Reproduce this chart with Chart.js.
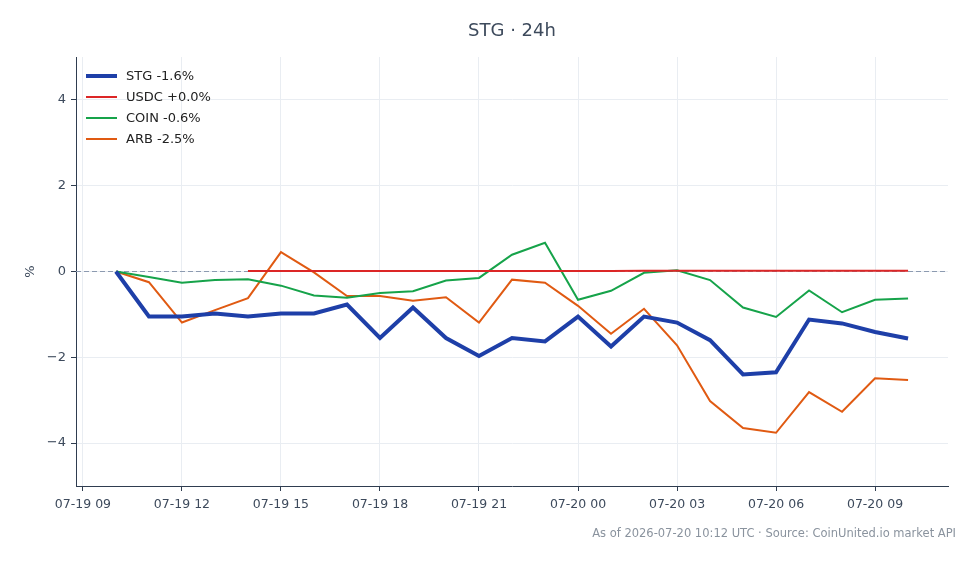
<!DOCTYPE html>
<html>
<head>
<meta charset="utf-8">
<script src="https://cdn.jsdelivr.net/npm/chart.js@4.4.1/dist/chart.umd.min.js"></script>
<style>
  html, body { margin: 0; padding: 0; background: #fff; }
  #wrap { width: 980px; height: 564px; position: relative; }
</style>
</head>
<body>
<div id="wrap"><canvas id="chart"></canvas></div>
<script>
const times = [
    "07-19 10", "07-19 11", "07-19 12", "07-19 13", "07-19 14", "07-19 15", "07-19 16",
    "07-19 17", "07-19 18", "07-19 19", "07-19 20", "07-19 21", "07-19 22", "07-19 23",
    "07-20 00", "07-20 01", "07-20 02", "07-20 03", "07-20 04", "07-20 05", "07-20 06",
    "07-20 07", "07-20 08", "07-20 09", "07-20 10",
];
const stg = [0, -1.05, -1.05, -0.98, -1.05, -0.98, -0.98, -0.77, -1.55, -0.84, -1.55, -1.97, -1.55,
    -1.63, -1.05, -1.75, -1.05, -1.19, -1.6, -2.4, -2.35, -1.12, -1.21, -1.41, -1.56];
const usdc = [null, null, null, null, 0.01, 0.01, 0.01, 0.01, 0.01, 0.01, 0.01, 0.01, 0.01,
    0.01, 0.01, 0.01, 0.02, 0.02, 0.02, 0.02, 0.02, 0.02, 0.02, 0.02, 0.02];
const coin = [0, -0.13, -0.26, -0.2, -0.18, -0.33, -0.56, -0.61, -0.5, -0.46, -0.21, -0.15, 0.39,
    0.67, -0.66, -0.45, -0.03, 0.03, -0.2, -0.84, -1.06, -0.44, -0.95, -0.66, -0.63];
const arb = [0, -0.25, -1.19, -0.9, -0.62, 0.45, -0.02, -0.57, -0.57, -0.68, -0.6, -1.19, -0.19,
    -0.26, -0.8, -1.45, -0.87, -1.72, -3.02, -3.65, -3.76, -2.81, -3.27, -2.49, -2.53];
const tickLabels = ["07-19 09", "07-19 12", "07-19 15", "07-19 18", "07-19 21",
    "07-20 00", "07-20 03", "07-20 06", "07-20 09"];
const yTicks = [-4, -2, 0, 2, 4];

const font = "'DejaVu Sans', sans-serif";
const axisColor = "#2f3d50";
const gridColor = "#e9edf2";

// hours since 07-19 00:00
const toHour = (s) => (parseInt(s.slice(3, 5)) - 19) * 24 + parseInt(s.slice(6, 8));
const xs = times.map(toHour);
const xTickVals = tickLabels.map(toHour);
const pts = (arr) => arr.map((v, i) => ({ x: xs[i], y: v }));

const series = [
    { label: "STG -1.6%", data: stg, color: "#1e3fa8", width: 4 },
    { label: "USDC +0.0%", data: usdc, color: "#dc2626", width: 2 },
    { label: "COIN -0.6%", data: coin, color: "#16a34a", width: 2 },
    { label: "ARB -2.5%", data: arb, color: "#e05a12", width: 2 },
];

const extras = {
    id: "extras",
    beforeDatasetsDraw(chart) {
        const { ctx, chartArea, scales } = chart;
        const y0 = scales.y.getPixelForValue(0);
        ctx.save();
        ctx.strokeStyle = "#8c9ab0";
        ctx.lineWidth = 1;
        ctx.setLineDash([5, 3]);
        ctx.beginPath();
        ctx.moveTo(chartArea.left, y0);
        ctx.lineTo(chartArea.right, y0);
        ctx.stroke();
        ctx.restore();
    },
    afterDraw(chart) {
        const { ctx, chartArea } = chart;
        ctx.save();
        // title
        ctx.fillStyle = "#3d4a5c";
        ctx.font = "18px " + font;
        ctx.textAlign = "center";
        ctx.textBaseline = "middle";
        ctx.fillText("STG · 24h", (chartArea.left + chartArea.right) / 2, 31);
        // legend
        ctx.font = "13px " + font;
        ctx.textAlign = "left";
        series.forEach((s, i) => {
            const y = 76 + i * 21;
            ctx.strokeStyle = s.color;
            ctx.lineWidth = s.width;
            ctx.beginPath();
            ctx.moveTo(86, y);
            ctx.lineTo(117, y);
            ctx.stroke();
            ctx.fillStyle = "#222";
            ctx.fillText(s.label, 126, y + 1);
        });
        // footer
        ctx.fillStyle = "#8a939e";
        ctx.font = "11.5px " + font;
        ctx.textAlign = "right";
        ctx.fillText("As of 2026-07-20 10:12 UTC · Source: CoinUnited.io market API", 956, 534);
        ctx.restore();
    },
};

new Chart(document.getElementById("chart"), {
    type: "line",
    data: {
        datasets: series.map((s) => ({
            label: s.label,
            data: pts(s.data),
            borderColor: s.color,
            backgroundColor: s.color,
            borderWidth: s.width,
            pointRadius: 0,
            tension: 0,
            fill: false,
        })),
    },
    options: {
        responsive: true,
        maintainAspectRatio: false,
        animation: false,
        layout: { padding: { top: 57, right: 32, bottom: 48, left: 0 } },
        scales: {
            x: {
                type: "linear",
                min: 8.79,
                max: 35.21,
                afterBuildTicks: (s) => { s.ticks = xTickVals.map((v) => ({ value: v })); },
                afterFit: (s) => { s.height = 30; },
                ticks: {
                    color: "#3d4a5c",
                    font: { family: font, size: 12.5 },
                    padding: 6,
                    maxRotation: 0,
                    callback: (v) => tickLabels[xTickVals.indexOf(v)],
                },
                grid: { color: gridColor, tickColor: axisColor, tickLength: 5 },
                border: { color: axisColor, width: 1 },
            },
            y: {
                min: -5,
                max: 5,
                afterBuildTicks: (s) => { s.ticks = yTicks.map((v) => ({ value: v })); },
                afterFit: (s) => { s.width = 76; },
                ticks: {
                    color: "#3d4a5c",
                    font: { family: font, size: 13 },
                    padding: 5,
                    callback: (v) => (v < 0 ? "\u2212" + Math.abs(v) : String(v)),
                },
                grid: { color: gridColor, tickColor: axisColor, tickLength: 5 },
                border: { color: axisColor, width: 1 },
                title: {
                    display: true,
                    text: "%",
                    color: "#3d4a5c",
                    font: { family: font, size: 13 },
                    padding: { top: 23, bottom: 0 },
                },
            },
        },
        plugins: {
            legend: { display: false },
            title: { display: false },
            tooltip: { enabled: false },
        },
    },
    plugins: [extras],
});
</script>
</body>
</html>
